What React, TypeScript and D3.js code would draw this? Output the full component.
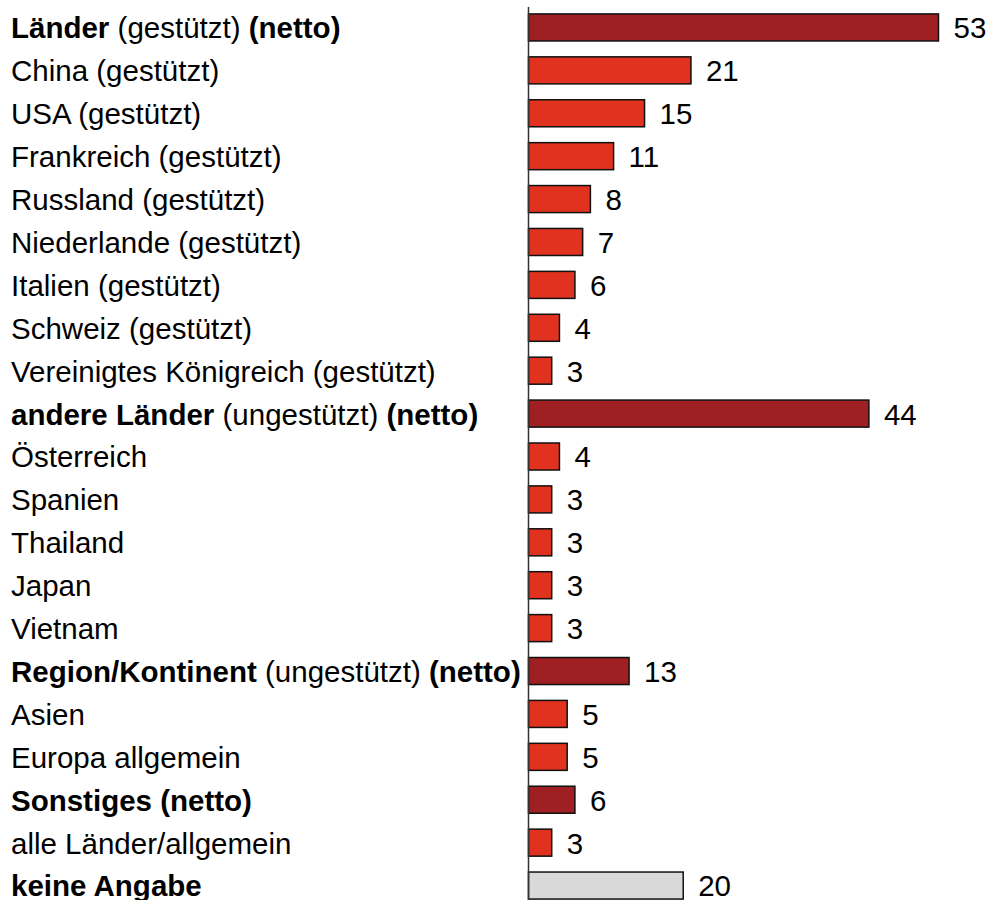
import React, { useRef, useEffect } from 'react';
import * as d3 from 'd3';

// **...** marks bold segments
const labels = [
  '**Länder** (gestützt) **(netto)**',
  'China (gestützt)',
  'USA (gestützt)',
  'Frankreich (gestützt)',
  'Russland (gestützt)',
  'Niederlande (gestützt)',
  'Italien (gestützt)',
  'Schweiz (gestützt)',
  'Vereinigtes Königreich (gestützt)',
  '**andere Länder** (ungestützt) **(netto)**',
  'Österreich',
  'Spanien',
  'Thailand',
  'Japan',
  'Vietnam',
  '**Region/Kontinent** (ungestützt) **(netto)**',
  'Asien',
  'Europa allgemein',
  '**Sonstiges (netto)**',
  'alle Länder/allgemein',
  '**keine Angabe**'
];

const values = [53, 21, 15, 11, 8, 7, 6, 4, 3, 44, 4, 3, 3, 3, 3, 13, 5, 5, 6, 3, 20];

// 'net' = summary row, 'item' = single answer, 'na' = no answer
const kinds = [
  'net', 'item', 'item', 'item', 'item', 'item', 'item', 'item', 'item',
  'net', 'item', 'item', 'item', 'item', 'item',
  'net', 'item', 'item',
  'net', 'item',
  'na'
];

const colors = { net: '#A01F22', item: '#E0321E', na: '#D9D9D9' };

const App = () => {
  const ref = useRef(null);

  useEffect(() => {
    const width = 992;
    const height = 900;
    const x0 = 528.5;
    const font = 'Arial, "Liberation Sans", sans-serif';
    const fontSize = 29.5;

    const svg = d3.select(ref.current)
      .attr('width', width)
      .attr('height', height);
    svg.selectAll('*').remove();

    const x = d3.scaleLinear()
      .domain([0, 53])
      .range([x0, 938.5]);

    const y = d3.scaleBand()
      .domain(labels.map((d, i) => String(i)))
      .range([6, 907])
      .paddingInner(0.37)
      .paddingOuter(0.185);

    const rows = svg.selectAll('g.row')
      .data(labels)
      .enter().append('g')
      .attr('class', 'row');

    rows.append('rect')
      .attr('x', x0)
      .attr('y', (d, i) => y(String(i)))
      .attr('width', (d, i) => x(values[i]) - x0)
      .attr('height', y.bandwidth())
      .attr('fill', (d, i) => colors[kinds[i]])
      .attr('stroke', '#111')
      .attr('stroke-width', 1.5);

    rows.append('text')
      .attr('x', (d, i) => x(values[i]) + 15)
      .attr('y', (d, i) => y(String(i)) + y.bandwidth() / 2)
      .attr('dy', '0.37em')
      .attr('font-family', font)
      .attr('font-size', fontSize)
      .attr('fill', '#000')
      .text((d, i) => values[i]);

    const lab = rows.append('text')
      .attr('x', 11)
      .attr('y', (d, i) => y(String(i)) + y.bandwidth() / 2)
      .attr('dy', '0.37em')
      .attr('font-family', font)
      .attr('font-size', fontSize)
      .attr('fill', '#000');

    lab.each(function (d) {
      const parts = d.split('**');
      const t = d3.select(this);
      parts.forEach((p, k) => {
        if (!p) return;
        t.append('tspan')
          .attr('font-weight', k % 2 === 1 ? 'bold' : 'normal')
          .text(p);
      });
    });

    svg.append('line')
      .attr('x1', x0)
      .attr('x2', x0)
      .attr('y1', 7)
      .attr('y2', height)
      .attr('stroke', '#333')
      .attr('stroke-width', 1.5);
  }, []);

  return <svg ref={ref} style={{ position: 'absolute', left: 0, top: 0 }} />;
};

export default App;
